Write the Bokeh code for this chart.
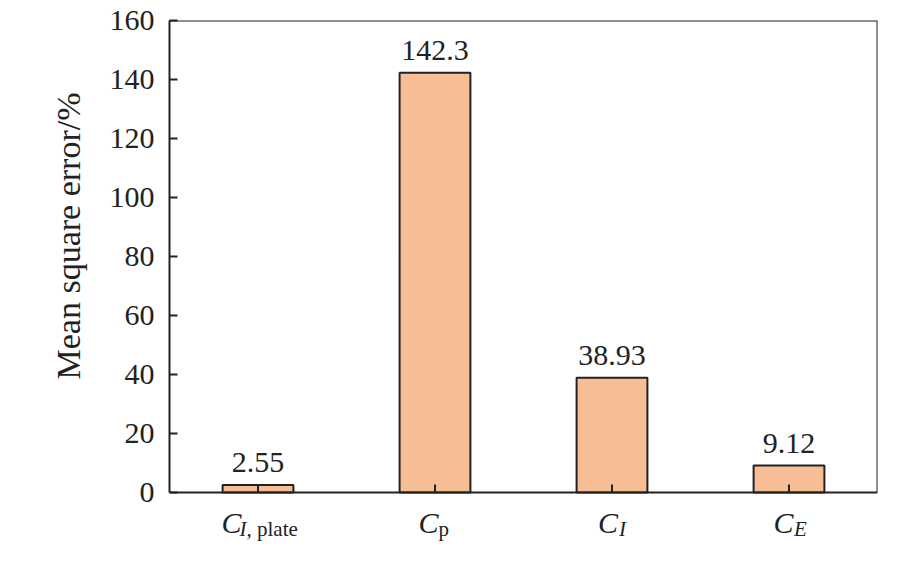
from bokeh.plotting import figure
from bokeh.models import ColumnDataSource, LabelSet, Label, Range1d, FixedTicker, Span
from bokeh.embed import file_html
from bokeh.resources import INLINE

# ---- data ----
categories = ["C_I_plate", "C_p", "C_I", "C_E"]
values = [2.55, 142.3, 38.93, 9.12]
value_labels = ["2.55", "142.3", "38.93", "9.12"]
y_ticks = [0, 20, 40, 60, 80, 100, 120, 140, 160]
y_max = 160
y_title = "Mean square error/%"
# tick label parts: main symbol, then (text, italic) subscript pieces
label_main = ["C", "C", "C", "C"]
label_subs = [[("I", True), (", plate", False)], [("p", False)], [("I", True)], [("E", True)]]

FONT = "'Liberation Serif'"
INK = "#222222"
BAR = "#F7BE96"

# layout (pixels)
W, H = 913, 576
TOP, LEFT, RIGHT = 20, 169, 36
AXIS_PX = 472          # height of the 0..160 box
EXTRA_PX = 78          # room below y=0 inside the frame for the tick labels
px_per_unit = AXIS_PX / y_max
y_low = -EXTRA_PX / px_per_unit
TITLE_SHIFT = 14       # non-breaking spaces that lift the y title upward

n = len(categories)
xpos = [i + 0.5 for i in range(n)]

p = figure(x_range=Range1d(0, n), y_range=Range1d(y_low, y_max),
           width=W, height=H, output_backend="svg", toolbar_location=None,
           min_border_left=LEFT, min_border_right=RIGHT, min_border_top=TOP,
           min_border_bottom=H - TOP - AXIS_PX - EXTRA_PX)

src = ColumnDataSource(dict(x=xpos, y=values, t=value_labels))
p.vbar(x="x", top="y", bottom=0, width=0.4, source=src, fill_color=BAR, line_color=INK, line_width=2)

p.add_layout(LabelSet(x="x", y="y", text="t", source=src, y_offset=13,
                      text_align="center", text_baseline="alphabetic",
                      text_font=FONT, text_font_size="30px", text_color=INK))

p.xgrid.visible = False
p.ygrid.visible = False
p.outline_line_color = None
p.xaxis.visible = False

# box: bottom axis line, top line, right line
p.add_layout(Span(location=0, dimension="width", line_color=INK, line_width=2))
p.add_layout(Span(location=y_max, dimension="width", line_color=INK, line_width=2))
p.segment(x0=[n], y0=[0], x1=[n], y1=[y_max], line_color=INK, line_width=2)
# x ticks pointing inward
tick_len = 8 / px_per_unit
p.segment(x0=xpos, y0=[0] * n, x1=xpos, y1=[tick_len] * n, line_color=INK, line_width=2)

ax = p.yaxis[0]
ax.bounds = (0, y_max)
ax.axis_line_color = INK
ax.axis_line_width = 2
ax.major_tick_line_color = INK
ax.major_tick_line_width = 2
ax.major_tick_in = 8
ax.major_tick_out = 0
ax.minor_tick_line_color = None
ax.major_label_text_font = FONT
ax.major_label_text_font_size = "30px"
ax.major_label_text_color = INK
ax.ticker = FixedTicker(ticks=y_ticks)
ax.major_label_standoff = 15
ax.axis_label = "\u00a0" * TITLE_SHIFT + y_title
ax.axis_label_text_font = FONT
ax.axis_label_text_font_size = "34px"
ax.axis_label_text_font_style = "normal"
ax.axis_label_text_color = INK
ax.axis_label_standoff = 20

# custom x tick labels with subscripts
c_offsets = [-36.5, -16.5, -14, -15.5]
sub_offsets = [-18.5, 3.5, 7, 5]
for i, xc in enumerate(xpos):
    p.add_layout(Label(x=xc, y=0, text=label_main[i], x_offset=c_offsets[i], y_offset=-30,
                       text_font=FONT, text_font_size="30px", text_font_style="italic",
                       text_color=INK, text_align="left", text_baseline="alphabetic"))
    xo = sub_offsets[i]
    for txt, ital in label_subs[i]:
        p.add_layout(Label(x=xc, y=0, text=txt, x_offset=xo, y_offset=-36,
                           text_font=FONT, text_font_size="21px",
                           text_font_style="italic" if ital else "normal",
                           text_color=INK, text_align="left", text_baseline="alphabetic"))
        xo += 7 if txt == "I" else 0

open("out.html", "w").write(file_html(p, INLINE))
